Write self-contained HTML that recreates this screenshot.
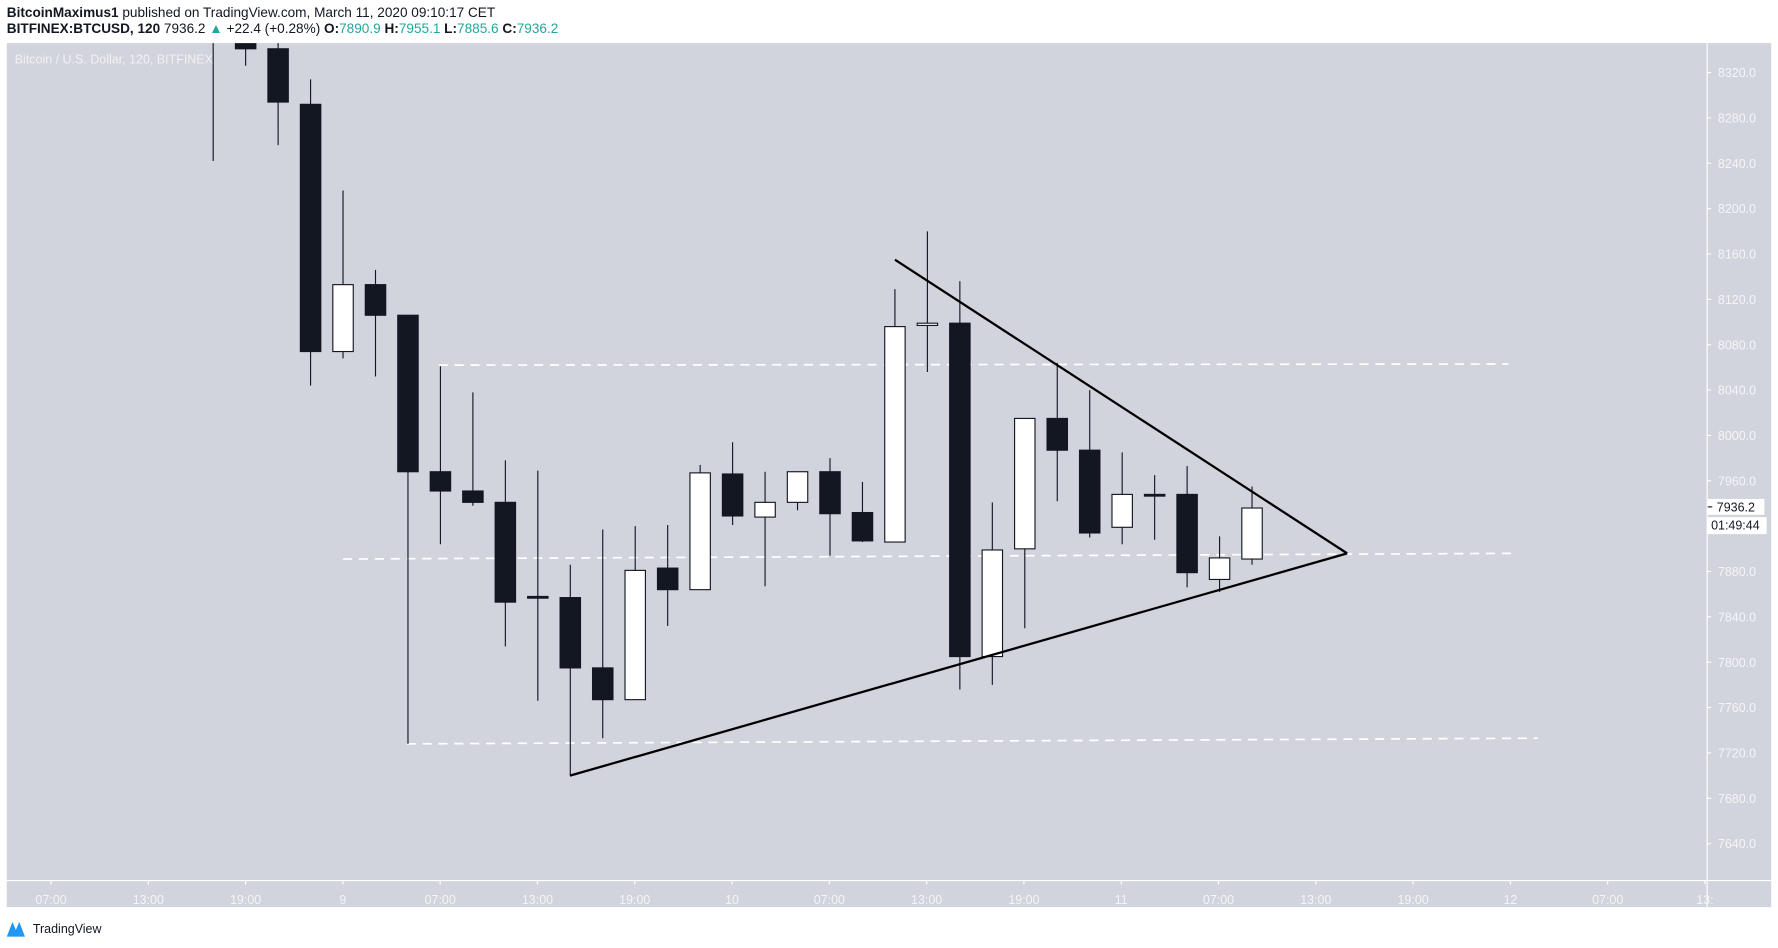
<!DOCTYPE html>
<html><head><meta charset="utf-8"><style>
html,body{margin:0;padding:0;background:#fff;}
svg{display:block;font-family:"Liberation Sans",sans-serif;}
</style></head><body>
<svg id="c" width="1778" height="948" viewBox="0 0 1568 836" xmlns="http://www.w3.org/2000/svg">
<rect width="1568" height="836" fill="#fff"/>
<text x="6" y="15" font-size="12" fill="#131722"><tspan font-weight="bold">BitcoinMaximus1</tspan> published on TradingView.com, March 11, 2020 09:10:17 CET</text>
<text x="6" y="29" font-size="12" fill="#131722"><tspan font-weight="bold">BITFINEX:BTCUSD, 120</tspan> 7936.2 <tspan fill="#26a69a">▲</tspan> +22.4 (+0.28%) <tspan font-weight="bold">O:</tspan><tspan fill="#26a69a">7890.9</tspan> <tspan font-weight="bold">H:</tspan><tspan fill="#26a69a">7955.1</tspan> <tspan font-weight="bold">L:</tspan><tspan fill="#26a69a">7885.6</tspan> <tspan font-weight="bold">C:</tspan><tspan fill="#26a69a">7936.2</tspan></text>
<rect x="6" y="38" width="1556" height="762" fill="#d1d4dc"/>
<line x1="1505.5" y1="38" x2="1505.5" y2="800" stroke="#fff" stroke-width="1"/>
<line x1="6" y1="776.5" x2="1562" y2="776.5" stroke="#fff" stroke-width="1"/>
<clipPath id="pc"><rect x="6" y="38" width="1499" height="738"/></clipPath>
<g id="plot" clip-path="url(#pc)"></g>
<g id="yaxis"></g><g id="xaxis"></g>
<text x="13" y="56" font-size="11" fill="#f0f1f4">Bitcoin / U.S. Dollar, 120, BITFINEX</text>
<rect x="1506" y="440" width="50" height="14" fill="#fff"/>
<line x1="1506" y1="447" x2="1510" y2="447" stroke="#131722"/>
<text x="1514" y="451" font-size="11" fill="#131722">7936.2</text>
<rect x="1506" y="456" width="52" height="15" fill="#fff"/>
<text x="1509" y="467" font-size="11" fill="#131722">01:49:44</text>
<g>
<path d="M6 826 L11 813 L14 820 L17 813 L22 826 Z" fill="#2196f3"/>
<text x="29" y="823" font-size="11" fill="#131722">TradingView</text>
</g>
</svg>
<script>
const opens  =[8420,8360,8341,8292,8074,8133,8106,7968,7951,7941,7858,7857,7795,7767,7883,7864,7966,7928,7941,7968,7932,7906,8097,8099,7805,7900,8015,7987,7919,7948,7948,7873,7891];
const highs  =[8430,8370,8350,8314,8216,8146,8106,8061,8038,7978,7969,7886,7917,7920,7921,7974,7994,7968,7968,7980,7959,8129,8180,8136,7941,8015,8064,8040,7985,7965,7973,7911,7955];
const lows   =[8242,8326,8256,8044,8068,8052,7728,7904,7938,7814,7766,7700,7733,7767,7832,7864,7921,7867,7934,7894,7906,7906,8056,7776,7780,7830,7942,7910,7904,7908,7866,7862,7886];
const closes =[8400,8341,8294,8074,8133,8106,7968,7951,7941,7853,7857,7795,7767,7881,7864,7967,7929,7941,7968,7931,7907,8096,8099,7805,7899,8015,7987,7914,7948,7947,7879,7892,7936];
const priceTicks=[8320,8280,8240,8200,8160,8120,8080,8040,8000,7960,7880,7840,7800,7760,7720,7680,7640];
const timeLabels=["07:00","13:00","19:00","9","07:00","13:00","19:00","10","07:00","13:00","19:00","11","07:00","13:00","19:00","12","07:00","13:"];
const levels=[[6.95,8062,39.9,8063],[4.0,7891,40.0,7896],[5.96,7728,40.8,7733]];
const trendlines=[[21.0,8155,34.93,7896],[10.99,7700,34.93,7896]];
const NS="http://www.w3.org/2000/svg";
const X=i=>188+i*28.63;
const Y=p=>64+(8320-p);
function mk(tag,a,parent){const e=document.createElementNS(NS,tag);for(const k in a)e.setAttribute(k,a[k]);parent.appendChild(e);return e;}
const plot=document.getElementById('plot');
levels.forEach(l=>{const e=mk('line',{x1:X(l[0]),y1:Y(l[1]),x2:X(l[2]),y2:Y(l[3]),stroke:'#fff','stroke-width':1.5,'stroke-dasharray':'8,6'},plot);

});
opens.forEach((o,i)=>{const c=closes[i],x=X(i);
const g=mk('g',{},plot);


mk('line',{x1:x,y1:Y(highs[i]),x2:x,y2:Y(lows[i]),stroke:'#131722','stroke-width':1},g);
const top=Y(Math.max(o,c)),h=Math.max(1.5,Math.abs(o-c));
const up=c>=o;
mk('rect',{x:x-9,y:top,width:18,height:h,fill:up?'#ffffff':'#131722',stroke:'#131722','stroke-width':1},g);});
trendlines.forEach(t=>{const e=mk('line',{x1:X(t[0]),y1:Y(t[1]),x2:X(t[2]),y2:Y(t[3]),stroke:'#000','stroke-width':2},plot);

});
const ya=document.getElementById('yaxis');
priceTicks.forEach(p=>{mk('line',{x1:1505,y1:Y(p),x2:1509,y2:Y(p),stroke:'#fff'},ya);
const t=mk('text',{x:1515,y:Y(p)+4,'font-size':11,fill:'#f4f5f8'},ya);t.textContent=p.toFixed(1);

});
const xa=document.getElementById('xaxis');
timeLabels.forEach((s,i)=>{const x=45+i*85.8;
mk('line',{x1:x,y1:776,x2:x,y2:780,stroke:'#fff'},xa);
const t=mk('text',{x:x,y:797,'font-size':11,fill:'#f4f5f8','text-anchor':'middle'},xa);t.textContent=s;

});
</script>
</body></html>
